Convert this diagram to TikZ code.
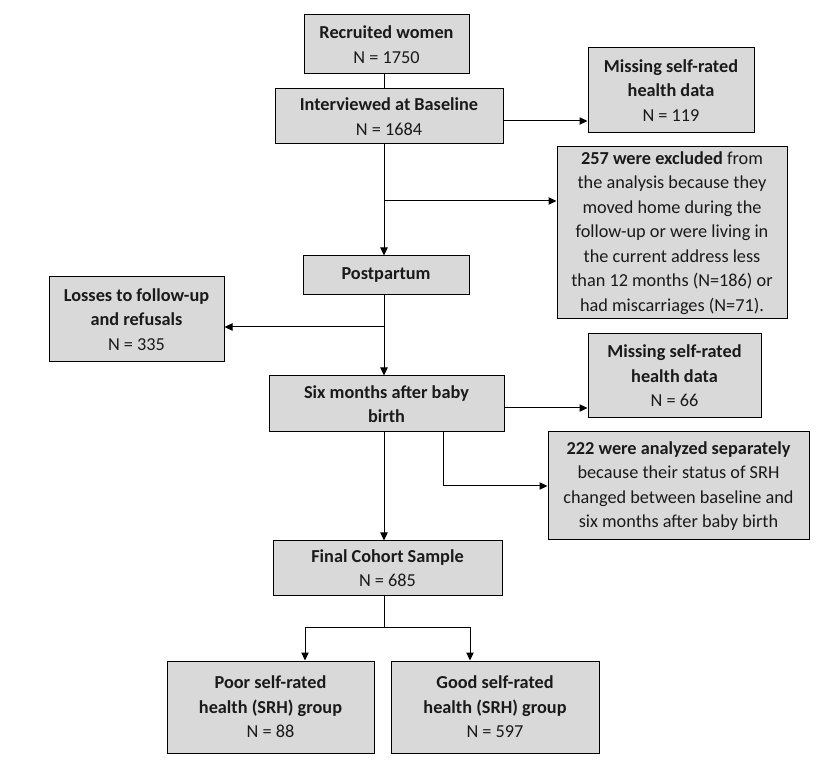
\documentclass[tikz,border=0pt]{standalone}
\usepackage{fontspec}
\setmainfont{Carlito}
\usetikzlibrary{arrows.meta,calc}
\definecolor{boxfill}{HTML}{D9D9D9}
\definecolor{ink}{HTML}{1A1A1A}
\begin{document}
\begin{tikzpicture}[x=0.75pt,y=-0.75pt,
 box/.style={draw=black,line width=0.75pt,fill=boxfill,align=center,inner sep=0pt,
   font=\fontsize{13.7}{18.4}\selectfont,text=ink},
 sz/.style 2 args={minimum width=#1*0.75pt,minimum height=#2*0.75pt},
 arr/.style={draw=black,line width=0.75pt,-{Triangle[length=6pt,width=5.5pt]}},
 ln/.style={draw=black,line width=0.75pt}]
\useasboundingbox[fill=white] (0,0) rectangle (840,777);
\coordinate (spine) at (384,0);

\node[box,sz={165}{59}] (rec) at (386.5,44.5) {\textbf{Recruited women}\\N = 1750};
\node[box,sz={228}{55}] (base) at (389,116.5) {\textbf{Interviewed at Baseline}\\N = 1684};
\node[box,sz={166}{85}] (miss1) at (671,90.5) {\textbf{Missing self-rated}\\\textbf{health data}\\N = 119};
\node[box,sz={230}{172}] (excl) at (672,233) {\textbf{257 were excluded} from\\the analysis because they\\moved home during the\\follow-up or were living in\\the current address less\\than 12 months (N=186) or\\had miscarriages (N=71).};
\node[box,sz={166}{39}] (post) at (386,275.5) {\textbf{Postpartum}};
\node[box,sz={175}{85}] (loss) at (136.5,319.5) {\textbf{Losses to follow-up}\\\textbf{and refusals}\\N = 335};
\node[box,sz={235}{56}] (six) at (386.5,404) {\textbf{Six months after baby}\\\textbf{birth}};
\node[box,sz={173}{84}] (miss2) at (674.5,376) {\textbf{Missing self-rated}\\\textbf{health data}\\N = 66};
\node[box,sz={261}{108}] (sep) at (678.5,486) {\textbf{222 were analyzed separately}\\because their status of SRH\\changed between baseline and\\six months after baby birth};
\node[box,sz={229}{54}] (final) at (387.5,568) {\textbf{Final Cohort Sample}\\N = 685};
\node[box,sz={207}{92}] (poor) at (270.5,707) {\textbf{Poor self-rated}\\\textbf{health (SRH) group}\\N = 88};
\node[box,sz={208}{92}] (good) at (495,707) {\textbf{Good self-rated}\\\textbf{health (SRH) group}\\N = 597};

\coordinate (j1) at (384,201);
\coordinate (j2) at (384,327);
\coordinate (split) at (384,627);
\coordinate (lft) at (305,627);
\coordinate (rgt) at (470,627);

\draw[ln] (rec.south -| spine) -- (base.north -| spine);
\draw[arr] (base.east |- 0,121) -- (miss1.west |- 0,121);
\draw[arr] (base.south -| spine) -- (post.north -| spine);
\draw[arr] (j1) -- (excl.west |- j1);
\draw[arr] (post.south -| spine) -- (six.north -| spine);
\draw[arr] (j2) -- (loss.east |- j2);
\draw[arr] (six.east |- 0,408) -- (miss2.west |- 0,408);
\draw[arr] (six.south -| 443,0) |- (sep.west);
\draw[arr] (six.south -| spine) -- (final.north -| spine);
\draw[ln] (final.south -| spine) -- (split);
\draw[ln] (lft) -- (rgt);
\draw[arr] (lft) -- (poor.north -| lft);
\draw[arr] (rgt) -- (good.north -| rgt);
\end{tikzpicture}
\end{document}
